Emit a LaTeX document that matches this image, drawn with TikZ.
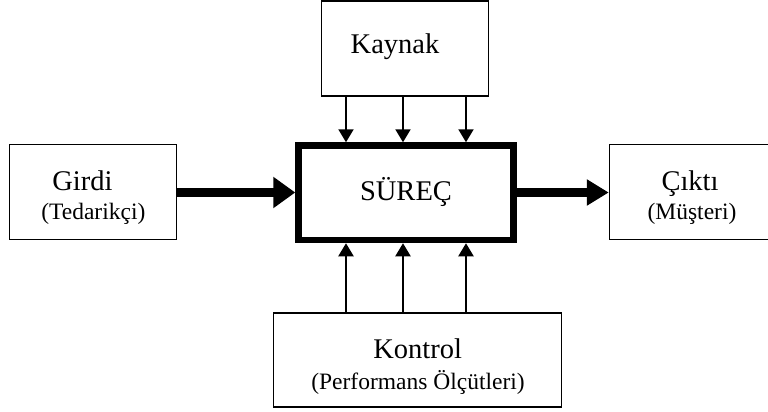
\documentclass[tikz,border=0pt]{standalone}
\usepackage{fontspec}
\setmainfont{Liberation Serif}
\usetikzlibrary{arrows.meta}
\begin{document}
\begin{tikzpicture}[x=1pt,y=-1pt,
  box/.style={draw, line width=1.5pt, inner sep=0pt},
  mainbox/.style={draw, line width=6.5pt, inner sep=0pt},
  ttl/.style={font=\fontsize{28.5}{30}\selectfont, anchor=base, inner sep=0pt},
  subttl/.style={font=\fontsize{23.5}{25}\selectfont, anchor=base, inner sep=0pt},
  thinarrow/.style={line width=2pt, -{Triangle[length=13pt,width=15pt]}},
  thickarrowL/.style={line width=8.5pt, -{Triangle[length=22pt,width=30pt]}},
  thickarrowR/.style={line width=8.5pt, -{Triangle[length=22pt,width=25pt]}}]
\useasboundingbox (0,0) rectangle (768,412);
% boxes
\node[box, minimum width=167pt, minimum height=95pt] (kaynak) at (405,48.5) {};
\node[box, minimum width=167pt, minimum height=95pt] (girdi) at (93,192) {};
\node[box, minimum width=163pt, minimum height=95pt] (cikti) at (691,192) {};
\node[mainbox, minimum width=215pt, minimum height=94.5pt] (surec) at (406,192.75) {};
\node[box, minimum width=288pt, minimum height=94pt] (kontrol) at (417.5,360) {};
% texts
\node[ttl] (tkaynak) at (395,53) {Kaynak};
\node[ttl] (tgirdi) at (82.5,190.7) {Girdi};
\node[subttl] (sgirdi) at (93.3,219) {(Tedarikçi)};
\node[ttl] (tsurec) at (406,200) {SÜREÇ};
\node[ttl] (tcikti) at (690,190.7) {Çıktı};
\node[subttl] (scikti) at (692,219) {(Müşteri)};
\node[ttl] (tkontrol) at (417.7,358) {Kontrol};
\node[subttl] (skontrol) at (418,389) {(Performans Ölçütleri)};
% arrow positions
\coordinate (a1) at (346,0);
\coordinate (a2) at (403,0);
\coordinate (a3) at (466,0);
\coordinate (h) at (0,192.5);
% arrows
\foreach \c in {a1,a2,a3}{
  \draw[thinarrow] (kaynak.south -| \c) -- (surec.north -| \c);
  \draw[thinarrow] (kontrol.north -| \c) -- (surec.south -| \c);
}
\draw[thickarrowL] (girdi.east |- h) -- (surec.west |- h);
\draw[thickarrowR] (surec.east |- h) -- (cikti.west |- h);
\end{tikzpicture}
\end{document}
